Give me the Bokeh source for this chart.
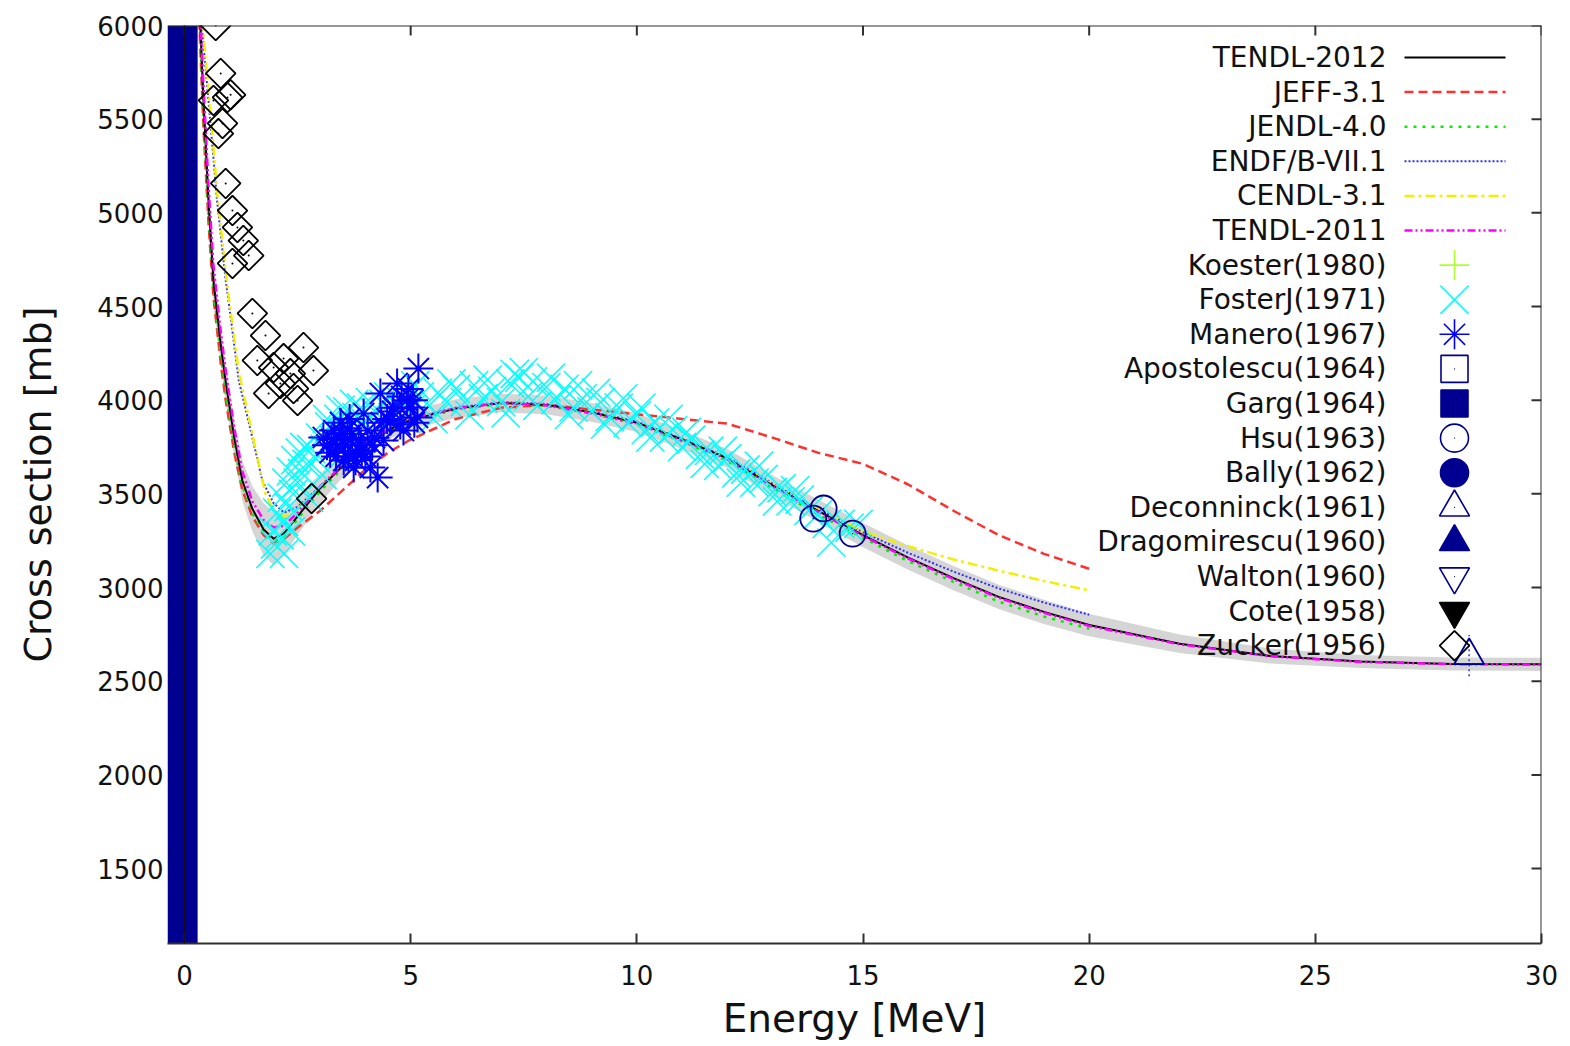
from bokeh.plotting import figure
from bokeh.models import Span, FixedTicker
from bokeh.core.properties import value
from bokeh.embed import file_html
from bokeh.resources import INLINE

# ---------------- data ----------------
x_ticks = [0, 5, 10, 15, 20, 25, 30]
y_ticks = [1500, 2000, 2500, 3000, 3500, 4000, 4500, 5000, 5500, 6000]

tendl12_e = [0.30, 0.35, 0.42, 0.53, 0.64, 0.80, 0.91, 1.10, 1.28, 1.50, 1.75, 1.97, 2.20, 2.50, 3.0, 3.5, 4.0, 4.5, 5.0, 6.0,
             7.0, 8.0, 9.0, 10.0, 11.0, 12.0, 13.0, 14.0, 15.0, 16.0, 17.0, 18.0, 19.0, 20.0, 22.0, 24.0, 26.0, 28.0, 30.0]
tendl12_xs = [6250, 6000, 5600, 5070, 4640, 4300, 4100, 3800, 3570, 3420, 3310, 3260, 3290, 3380, 3530, 3650, 3760, 3840, 3895, 3955,
              3985, 3975, 3935, 3880, 3790, 3690, 3545, 3410, 3280, 3160, 3050, 2950, 2870, 2800, 2700, 2635, 2605, 2592, 2590]
tendl12_unc = [150, 150, 140, 130, 120, 110, 100, 100, 110, 120, 140, 140, 120, 100, 80, 60, 50, 50, 50, 50,
               50, 50, 50, 50, 50, 50, 55, 60, 65, 65, 65, 65, 65, 60, 50, 40, 35, 35, 35]

tendl11_e = tendl12_e
tendl11_xs = [6300, 6050, 5680, 5150, 4720, 4370, 4160, 3850, 3620, 3460, 3360, 3320, 3330, 3400, 3540, 3655, 3765, 3845, 3900, 3958,
              3985, 3972, 3930, 3875, 3785, 3685, 3540, 3405, 3275, 3155, 3045, 2945, 2865, 2795, 2697, 2633, 2603, 2591, 2589]

jeff_e = [0.29, 0.33, 0.42, 0.53, 0.64, 0.80, 0.91, 1.10, 1.28, 1.50, 1.75, 1.97, 2.20, 2.50, 3.0, 3.5, 4.0, 4.5, 5.0, 6.0,
          7.0, 8.0, 9.0, 10.0, 11.0, 12.0, 13.0, 14.0, 15.0, 16.0, 17.0, 18.0, 19.0, 20.0]
jeff_xs = [6250, 6000, 5450, 4950, 4550, 4200, 4000, 3720, 3520, 3380, 3280, 3235, 3260, 3320, 3410, 3520, 3630, 3720, 3790, 3900,
           3960, 3975, 3950, 3925, 3900, 3875, 3800, 3720, 3660, 3550, 3410, 3280, 3180, 3100]

jendl_e = jeff_e
jendl_xs = [6300, 6030, 5500, 4990, 4590, 4240, 4040, 3750, 3540, 3395, 3295, 3250, 3275, 3365, 3515, 3640, 3750, 3835, 3890, 3950,
            3980, 3970, 3930, 3870, 3780, 3675, 3530, 3390, 3265, 3140, 3030, 2925, 2845, 2780]

endf_e = [0.33, 0.38, 0.53, 0.72, 0.91, 1.00, 1.20, 1.50, 1.72, 1.97, 2.20, 2.50, 3.0, 3.5, 4.0, 4.5, 5.0, 6.0, 7.0, 8.0,
          9.0, 10.0, 11.0, 12.0, 13.0, 14.0, 15.0, 16.0, 17.0, 18.0, 19.0, 20.0]
endf_xs = [6300, 6000, 5600, 5066, 4640, 4480, 4105, 3800, 3571, 3450, 3400, 3430, 3540, 3655, 3765, 3845, 3900, 3960, 3990, 3980,
           3940, 3885, 3795, 3695, 3555, 3420, 3295, 3185, 3085, 2995, 2920, 2855]

cendl_e = [0.35, 0.40, 0.55, 0.74, 0.95, 1.20, 1.50, 1.79, 2.00, 2.20, 2.50, 3.0, 3.5, 4.0, 4.5, 5.0, 6.0, 7.0, 8.0, 9.0,
           10.0, 11.0, 12.0, 13.0, 14.0, 15.0, 16.0, 17.0, 18.0, 19.0, 20.0]
cendl_xs = [6250, 6000, 5600, 5066, 4600, 4150, 3820, 3500, 3400, 3380, 3420, 3535, 3650, 3760, 3840, 3895, 3955, 3985, 3975, 3935,
            3880, 3790, 3690, 3550, 3420, 3300, 3220, 3150, 3090, 3035, 2985]

fosterj_e = [1.90, 1.95, 2.00, 2.05, 2.10, 2.15, 2.20, 2.25, 2.30, 2.35, 2.40, 2.45, 2.50, 2.55, 2.60, 2.70, 2.80, 2.90, 3.00, 3.10,
             3.20, 3.30, 3.40, 3.50, 3.60, 3.70, 3.80, 3.90, 4.00, 4.20, 4.40, 4.60, 4.80, 5.00, 5.20, 5.40, 5.60, 5.80, 6.00, 6.20,
             6.40, 6.60, 6.80, 7.00, 7.20, 7.40, 7.60, 7.80, 8.00, 8.20, 8.40, 8.60, 8.80, 9.00, 9.20, 9.40, 9.60, 9.80, 10.0, 10.2,
             10.4, 10.6, 10.8, 11.0, 11.2, 11.4, 11.6, 11.8, 12.0, 12.2, 12.4, 12.6, 12.8, 13.0, 13.2, 13.4, 13.6, 13.8, 14.0, 14.2,
             14.3, 14.5, 14.7, 14.9,
             5.10, 5.50, 5.90, 6.30, 6.70, 7.10, 7.30, 7.50, 7.70, 8.10, 8.50, 8.70, 9.10, 9.30, 9.70, 10.1, 10.3, 10.7, 11.1, 11.5,
             11.9, 12.3, 12.7, 13.1, 13.5, 3.15, 3.45, 3.75, 4.10, 4.50, 4.90, 2.65, 2.35, 2.20, 2.75, 3.05]
fosterj_xs = [3180, 3300, 3230, 3400, 3280, 3480, 3350, 3560, 3430, 3620, 3500, 3680, 3560, 3720, 3610, 3660, 3740, 3690, 3800, 3740,
              3860, 3790, 3900, 3830, 3940, 3860, 3910, 3960, 3880, 3940, 3980, 3910, 3990, 3950, 4020, 3970, 4040, 3990, 4060, 3990,
              4080, 4010, 4050, 3990, 4090, 4120, 4020, 3970, 4070, 4000, 4060, 3960, 4010, 3940, 3990, 3910, 3960, 3880, 3920, 3840,
              3880, 3800, 3840, 3750, 3790, 3710, 3730, 3650, 3690, 3610, 3630, 3560, 3580, 3510, 3530, 3460, 3470, 3410, 3390, 3340,
              3240, 3340, 3320, 3340,
              4080, 3900, 4090, 3920, 4110, 3930, 4140, 4150, 4100, 4120, 3920, 4080, 4040, 3870, 4010, 3960, 3800, 3900, 3830, 3660,
              3730, 3560, 3650, 3460, 3520, 3900, 3950, 3980, 3990, 4020, 4040, 3750, 3300, 3180, 3480, 3600]

manero_e = [3.07, 3.15, 3.22, 3.30, 3.38, 3.45, 3.52, 3.60, 3.67, 3.74, 3.82, 3.90, 3.96, 4.05, 4.11, 4.20, 4.27, 4.33, 4.40, 4.48,
            4.55, 4.62, 4.70, 4.77, 4.84, 4.92, 5.00, 5.08, 5.15, 5.17,
            3.35, 3.45, 3.55, 3.62, 3.70, 3.78, 3.85, 3.92, 4.00, 3.25, 3.50, 3.65, 4.15, 4.35, 4.60, 4.80, 4.95, 5.05]
manero_xs = [3801, 3760, 3720, 3838, 3748, 3800, 3678, 3850, 3785, 3641, 3715, 3760, 3929, 3838, 3641, 3800, 3587, 4036, 3785, 3900,
             3891, 3960, 4089, 3870, 3838, 4000, 3961, 3880, 3908, 4169,
             3700, 3880, 3760, 3700, 3820, 3680, 3790, 3730, 3700, 3790, 3820, 3900, 3760, 3880, 3940, 4020, 4060, 4000]

zucker_e = [0.69, 0.80, 0.95, 0.64, 0.84, 0.75, 0.91, 1.06, 1.17, 1.30, 1.06, 1.42, 1.50, 1.79, 1.61, 2.19, 2.63, 2.85, 1.86, 2.50,
            2.12, 2.34, 1.97, 2.41, 2.81, 1.02]
zucker_xs = [6000, 5744, 5616, 5600, 5477, 5423, 5157, 5012, 4922, 4852, 4730, 4772, 4463, 4345, 4212, 4222, 4281, 4158, 4036, 3998,
             4089, 4142, 4174, 4062, 3475, 5630]

hsu_e = [13.90, 14.13, 14.77]
hsu_xs = [3368, 3422, 3288]

deconninck_e = [28.4]
deconninck_xs = [2637]
deconninck_err = [110]

# the many low-energy points (< 0.3 MeV) pile up into a solid block at the left edge
lowe_left = [-0.376]
lowe_right = [0.29]
lowe_bottom = [1100]
lowe_top = [6000]

legend_names = ["TENDL-2012", "JEFF-3.1", "JENDL-4.0", "ENDF/B-VII.1", "CENDL-3.1", "TENDL-2011",
                "Koester(1980)", "FosterJ(1971)", "Manero(1967)", "Apostolescu(1964)", "Garg(1964)", "Hsu(1963)",
                "Bally(1962)", "Deconninck(1961)", "Dragomirescu(1960)", "Walton(1960)", "Cote(1958)", "Zucker(1956)"]

# ---------------- styles ----------------
FONT = "DejaVu Sans"
NAVY = "#000090"
line_styles = [
    ("#000000", "solid", 2),
    ("#ff3030", "9 5", 2.5),
    ("#00ee00", "3 6", 2.5),
    ("#3030ff", "2 2", 2),
    ("#f0f000", "10 4 3 4", 2.5),
    ("#ff00ff", "8 3 2 3 2 3", 2.5),
]
marker_styles = [
    ("cross", "#adff2f", None, 30),
    ("x", "#00ffff", None, 40),
    ("asterisk", "#0000ff", None, 30),
    ("square", NAVY, None, 27),
    ("square", NAVY, NAVY, 27),
    ("circle", NAVY, None, 28),
    ("circle", NAVY, NAVY, 28),
    ("triangle", NAVY, None, 30),
    ("triangle", NAVY, NAVY, 30),
    ("inverted_triangle", NAVY, None, 30),
    ("inverted_triangle", "#000000", "#000000", 30),
    ("diamond_sq", "#000000", None, 21),
]

X0, X1 = -0.376, 30.0
Y0, Y1 = 1100.0, 6000.0
FW, FH = 1374, 918
LEFT, TOP = 167, 25

p = figure(width=1568, height=1046, x_range=(X0, X1), y_range=(Y0, Y1),
           output_backend="svg", toolbar_location=None,
           min_border_left=LEFT, min_border_right=27, min_border_top=TOP, min_border_bottom=103)
p.outline_line_color = None
p.xgrid.visible = False
p.ygrid.visible = False
p.background_fill_color = "white"
p.border_fill_color = "white"

AX = "#303030"
xa = p.xaxis[0]
xa.ticker = FixedTicker(ticks=x_ticks)
xa.axis_label = "Energy [MeV]"
xa.axis_line_width = 2
xa.axis_line_color = AX
xa.major_tick_in = 10
xa.major_tick_out = 0
xa.major_tick_line_width = 2
xa.major_tick_line_color = AX
xa.minor_tick_line_color = None
xa.major_label_text_font = FONT
xa.major_label_text_font_size = "26px"
xa.major_label_text_color = "#111111"
xa.major_label_standoff = 21
xa.axis_label_text_font = FONT
xa.axis_label_text_font_size = "39px"
xa.axis_label_text_font_style = "normal"
xa.axis_label_text_color = "#111111"
xa.axis_label_standoff = 8

ya = p.yaxis[0]
ya.ticker = FixedTicker(ticks=y_ticks)
ya.axis_label = "Cross section [mb]"
ya.axis_line_color = None
ya.major_tick_line_color = None
ya.minor_tick_line_color = None
ya.major_tick_out = 0
ya.major_tick_in = 0
ya.major_label_text_font = FONT
ya.major_label_text_font_size = "26px"
ya.major_label_text_color = "#111111"
ya.major_label_standoff = 4
ya.axis_label_text_font = FONT
ya.axis_label_text_font_size = "38px"
ya.axis_label_text_font_style = "normal"
ya.axis_label_text_color = "#111111"
ya.axis_label_standoff = 34

# ---------------- drawing ----------------
band_lo = [y - u for y, u in zip(tendl12_xs, tendl12_unc)]
band_hi = [y + u for y, u in zip(tendl12_xs, tendl12_unc)]
p.varea(x=tendl12_e, y1=band_lo, y2=band_hi, fill_color="#d0d0d0", fill_alpha=0.9)

p.quad(left=lowe_left, right=lowe_right, bottom=lowe_bottom, top=lowe_top, fill_color=NAVY, line_color=None)

series = [(tendl12_e, tendl12_xs), (jeff_e, jeff_xs), (jendl_e, jendl_xs), (endf_e, endf_xs),
          (cendl_e, cendl_xs), (tendl11_e, tendl11_xs)]
draw_order = [1, 2, 3, 4, 0, 5]
for i in draw_order:
    e, xs = series[i]
    c, d, w = line_styles[i]
    p.line(e, xs, line_color=c, line_dash=d, line_width=w)

p.scatter(fosterj_e, fosterj_xs, marker="x", size=40, line_color="#00ffff", line_width=1.5)
p.scatter(manero_e, manero_xs, marker="asterisk", size=30, line_color="#0000ff", line_width=2)
p.scatter(zucker_e, zucker_xs, marker="square", angle=0.785398, size=21, fill_color=None,
          line_color="#000000", line_width=1.8)
p.scatter(zucker_e, zucker_xs, marker="dot", size=8, line_color="#000000")
p.scatter(hsu_e, hsu_xs, marker="circle", size=26, fill_color=None, line_color=NAVY, line_width=1.8)
p.scatter(hsu_e, hsu_xs, marker="dot", size=6, line_color=NAVY)
dec_lo = [y - e for y, e in zip(deconninck_xs, deconninck_err)]
dec_hi = [y + e for y, e in zip(deconninck_xs, deconninck_err)]
p.segment(x0=deconninck_e, y0=dec_lo, x1=deconninck_e, y1=dec_hi, line_color="#3030ff", line_dash="2 3", line_width=1.5)
p.scatter(deconninck_e, deconninck_xs, marker="triangle", size=30, fill_color=None, line_color=NAVY, line_width=1.8)

# ---------------- frame (gnuplot-style box with inward mirror ticks) ----------------
TICK = 10
tick_dx = TICK * (X1 - X0) / FW
tick_dy = TICK * (Y1 - Y0) / FH
p.segment(x0=x_ticks, y0=[Y1] * len(x_ticks), x1=x_ticks, y1=[Y1 - tick_dy] * len(x_ticks),
          line_color=AX, line_width=2)
p.segment(x0=[X1] * len(y_ticks), y0=y_ticks, x1=[X1 - tick_dx] * len(y_ticks), y1=y_ticks,
          line_color=AX, line_width=2)
p.add_layout(Span(location=Y1, dimension="width", line_color=AX, line_width=2))
p.add_layout(Span(location=X1, dimension="height", line_color=AX, line_width=2))
p.add_layout(Span(location=0, dimension="height", line_color="#111111", line_width=2))

# ---------------- legend (gnuplot style: text, then sample on the right) ----------------
def dx(px):
    return X0 + (px - LEFT) * (X1 - X0) / FW

def dy(py):
    return Y1 - (py - TOP) * (Y1 - Y0) / FH

row_y = [dy(57 + 34.6 * i) for i in range(len(legend_names))]
p.text(x=[dx(1386)] * len(legend_names), y=row_y, text=legend_names, text_align="right",
       text_baseline="middle", text_font=value(FONT), text_font_size="28px", text_color="#111111")

for i, (c, d, w) in enumerate(line_styles):
    p.line([dx(1404), dx(1505)], [row_y[i], row_y[i]], line_color=c, line_dash=d, line_width=w)

mx = dx(1454)
for j, (m, lc, fc, s) in enumerate(marker_styles):
    yy = row_y[6 + j]
    if m == "diamond_sq":
        p.scatter([mx], [yy], marker="square", angle=0.785398, size=s, fill_color=None, line_color=lc, line_width=1.8)
    else:
        p.scatter([mx], [yy], marker=m, size=s, line_color=lc, fill_color=fc, line_width=1.6)
    if fc is None and m in ("square", "circle", "triangle", "inverted_triangle"):
        p.scatter([mx], [yy], marker="dot", size=5, line_color=lc)

open("out.html", "w").write(file_html(p, INLINE))
